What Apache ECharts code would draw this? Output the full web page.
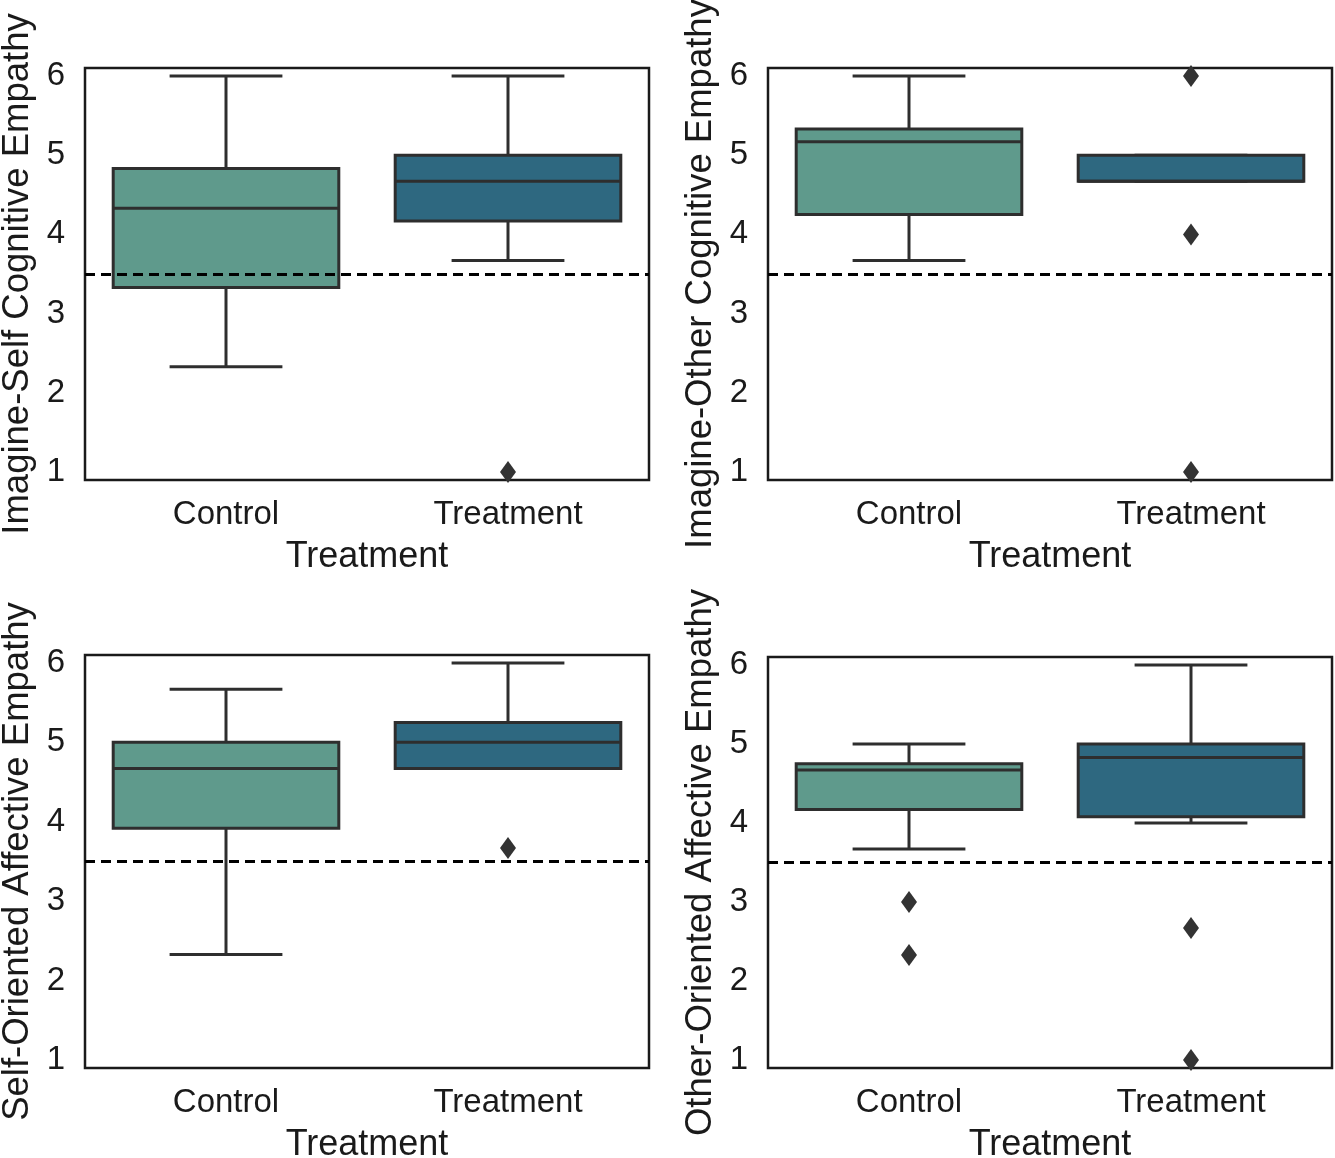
<!DOCTYPE html>
<html>
<head>
<meta charset="utf-8">
<script src="https://cdn.jsdelivr.net/npm/echarts@6/dist/echarts.min.js"></script>
<style>
  html, body { margin: 0; padding: 0; background: #fff; }
  #main { width: 1335px; height: 1158px; }
</style>
</head>
<body>
<div id="main"></div>
<script>
// categories and tick labels
var groups = ['Control', 'Treatment'];
var yTicks = [1, 2, 3, 4, 5, 6];
var cutoff = 3.5;

// panel titles (y axis names)
var panelNames = [
    'Imagine-Self Cognitive Empathy',
    'Imagine-Other Cognitive Empathy',
    'Self-Oriented Affective Empathy',
    'Other-Oriented Affective Empathy'
];

// box stats per panel: [lower whisker, Q1, median, Q3, upper whisker] for Control, Treatment
var selfCog = [[2.33, 3.33, 4.33, 4.83, 6.0], [3.67, 4.17, 4.67, 5.0, 6.0]];
var otherCog = [[3.67, 4.25, 5.17, 5.33, 6.0], [4.67, 4.67, 4.67, 5.0, 5.0]];
var selfAff = [[2.33, 3.92, 4.67, 5.0, 5.67], [4.67, 4.67, 5.0, 5.25, 6.0]];
var otherAff = [[3.67, 4.17, 4.67, 4.75, 5.0], [4.0, 4.08, 4.83, 5.0, 6.0]];

// outliers per panel: [Control outliers, Treatment outliers]
var selfCogOut = [[], [1.0]];
var otherCogOut = [[], [6.0, 4.0, 1.0]];
var selfAffOut = [[], [3.67]];
var otherAffOut = [[3.0, 2.33], [2.67, 1.0]];

var boxStats = [selfCog, otherCog, selfAff, otherAff];
var outliers = [selfCogOut, otherCogOut, selfAffOut, otherAffOut];

var boxColors = ['#5f9a8c', '#2e6880'];
var lineColor = '#2e2e2e';
var fontFamily = 'Liberation Sans, Arial, sans-serif';

var chart = echarts.init(document.getElementById('main'));

// 画箱线图：须线帽为箱宽的一半
function renderBox(params, api) {
    var idx = api.value(0);
    var band = api.size([1, 0])[0];
    var bw = band * 0.8;
    var cw = bw * 0.5;
    var pLo = api.coord([idx, api.value(1)]);
    var pQ1 = api.coord([idx, api.value(2)]);
    var pMed = api.coord([idx, api.value(3)]);
    var pQ3 = api.coord([idx, api.value(4)]);
    var pHi = api.coord([idx, api.value(5)]);
    var cx = pQ1[0];
    var ls = { stroke: lineColor, lineWidth: 3 };
    return {
        type: 'group',
        children: [
            { type: 'line', shape: { x1: cx, y1: pQ1[1], x2: cx, y2: pLo[1] }, style: ls },
            { type: 'line', shape: { x1: cx, y1: pQ3[1], x2: cx, y2: pHi[1] }, style: ls },
            { type: 'line', shape: { x1: cx - cw / 2, y1: pLo[1], x2: cx + cw / 2, y2: pLo[1] }, style: ls },
            { type: 'line', shape: { x1: cx - cw / 2, y1: pHi[1], x2: cx + cw / 2, y2: pHi[1] }, style: ls },
            {
                type: 'rect',
                shape: { x: cx - bw / 2, y: pQ3[1], width: bw, height: pQ1[1] - pQ3[1] },
                style: { fill: boxColors[idx], stroke: lineColor, lineWidth: 3 }
            },
            { type: 'line', shape: { x1: cx - bw / 2, y1: pMed[1], x2: cx + bw / 2, y2: pMed[1] }, style: ls }
        ]
    };
}

var gridPos = [
    { left: 85, top: 68, height: 412 },
    { left: 768, top: 68, height: 412 },
    { left: 85, top: 655, height: 413 },
    { left: 768, top: 657, height: 411 }
];

var grids = [], xAxes = [], yAxes = [], series = [];

for (var i = 0; i < 4; i++) {
    grids.push({
        left: gridPos[i].left,
        top: gridPos[i].top,
        width: 564,
        height: gridPos[i].height,
        outerBoundsMode: 'none',
        containLabel: false,
        show: true,
        borderColor: '#1a1a1a',
        borderWidth: 2.5,
        backgroundColor: '#fff'
    });
    xAxes.push({
        type: 'category',
        gridIndex: i,
        data: groups,
        name: 'Treatment',
        nameLocation: 'middle',
        nameGap: 59,
        nameTextStyle: { fontSize: 36, color: '#1a1a1a', fontFamily: fontFamily },
        axisLine: { show: false },
        axisTick: { show: false },
        axisLabel: { fontSize: 33, color: '#1a1a1a', margin: 18, fontFamily: fontFamily },
        splitLine: { show: false }
    });
    yAxes.push({
        type: 'value',
        gridIndex: i,
        min: 0.9,
        max: 6.1,
        name: panelNames[i],
        nameLocation: 'middle',
        nameGap: 49,
        nameTextStyle: { fontSize: 36.5, color: '#1a1a1a', fontFamily: fontFamily },
        axisLine: { show: false },
        axisTick: { show: false },
        axisLabel: {
            fontSize: 33, color: '#1a1a1a', margin: 20, fontFamily: fontFamily,
            customValues: yTicks
        },
        splitLine: { show: false }
    });

    var boxData = boxStats[i].map(function (s, k) {
        return [k].concat(s);
    });
    series.push({
        type: 'custom',
        xAxisIndex: i,
        yAxisIndex: i,
        renderItem: renderBox,
        encode: { x: 0, y: [1, 2, 3, 4, 5] },
        data: boxData,
        z: 2
    });

    var outData = [];
    outliers[i].forEach(function (vals, k) {
        vals.forEach(function (v) { outData.push([k, v]); });
    });
    series.push({
        type: 'scatter',
        xAxisIndex: i,
        yAxisIndex: i,
        symbol: 'diamond',
        symbolSize: [16, 22],
        itemStyle: { color: '#333333', opacity: 1 },
        data: outData,
        z: 4,
        markLine: {
            silent: true,
            symbol: 'none',
            label: { show: false },
            lineStyle: { color: '#000', width: 3, type: [10, 6], opacity: 1 },
            data: [{ yAxis: cutoff }]
        }
    });
}

chart.setOption({
    animation: false,
    textStyle: { fontFamily: fontFamily },
    grid: grids,
    xAxis: xAxes,
    yAxis: yAxes,
    series: series
});
</script>
</body>
</html>
